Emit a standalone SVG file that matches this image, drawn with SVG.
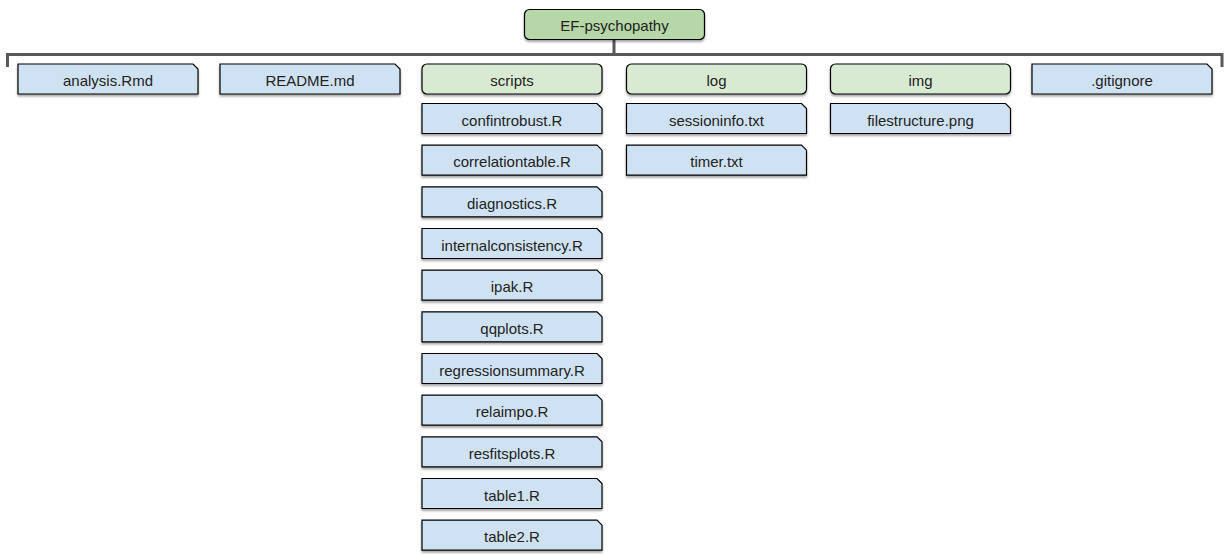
<svg xmlns="http://www.w3.org/2000/svg" width="1230" height="554" viewBox="0 0 1230 554">
<defs>
<filter id="sh" x="-5%" y="-20%" width="110%" height="160%">
<feDropShadow dx="0" dy="2" stdDeviation="1.2" flood-color="#000" flood-opacity="0.35"/>
</filter>
</defs>
<style>
.file path{fill:#cfe2f3;stroke:#000;stroke-width:1.2;filter:url(#sh)}
.dir rect{fill:#d9ead3;stroke:#000;stroke-width:1.2;filter:url(#sh)}
.root rect{fill:#b6d7a8;stroke:#000;stroke-width:1.2;filter:url(#sh)}
text{font-family:"Liberation Sans",Arial,sans-serif;font-size:15px;fill:#222;text-anchor:middle;dominant-baseline:central}
.conn{fill:none;stroke:#595959;stroke-width:3}
</style>
<rect width="1230" height="554" fill="#fff"/>
<g id="connectors">
<path class="conn" d="M614,39 V54.5 M7.5,67 V54.5 H1222 V67"/>
</g>
<g id="root" class="root"><rect x="524.5" y="9.5" width="180" height="30" rx="5"/><text x="614.5" y="25.5">EF-psychopathy</text></g>
<g id="n-analysis" class="file"><path d="M18,64 H193 L198,69 V94 H18 Z"/><text x="108" y="80.5">analysis.Rmd</text></g>
<g id="n-readme" class="file"><path d="M220,64 H395 L400,69 V94 H220 Z"/><text x="310" y="80.5">README.md</text></g>
<g id="n-scripts" class="dir"><rect x="422" y="64" width="180" height="30" rx="5"/><text x="512" y="80.5">scripts</text></g>
<g id="n-log" class="dir"><rect x="626.5" y="64" width="180" height="30" rx="5"/><text x="716.5" y="80.5">log</text></g>
<g id="n-img" class="dir"><rect x="830.5" y="64" width="180" height="30" rx="5"/><text x="920.5" y="80.5">img</text></g>
<g id="n-gitignore" class="file"><path d="M1032,64 H1207 L1212,69 V94 H1032 Z"/><text x="1122" y="80.5">.gitignore</text></g>
<g id="n-sessioninfo" class="file"><path d="M626.5,103.5 H801.5 L806.5,108.5 V133.5 H626.5 Z"/><text x="716.5" y="120">sessioninfo.txt</text></g>
<g id="n-timer" class="file"><path d="M626.5,145.2 H801.5 L806.5,150.2 V175.2 H626.5 Z"/><text x="716.5" y="161.7">timer.txt</text></g>
<g id="n-filestructure" class="file"><path d="M830.5,103.5 H1005.5 L1010.5,108.5 V133.5 H830.5 Z"/><text x="920.5" y="120">filestructure.png</text></g>
<g id="n-confintrobust" class="file"><path d="M422,103.5 H597 L602,108.5 V133.5 H422 Z"/><text x="512" y="120">confintrobust.R</text></g>
<g id="n-correlationtable" class="file"><path d="M422,145.2 H597 L602,150.2 V175.2 H422 Z"/><text x="512" y="161.7">correlationtable.R</text></g>
<g id="n-diagnostics" class="file"><path d="M422,186.8 H597 L602,191.8 V216.8 H422 Z"/><text x="512" y="203.3">diagnostics.R</text></g>
<g id="n-internalconsistency" class="file"><path d="M422,228.5 H597 L602,233.5 V258.5 H422 Z"/><text x="512" y="245">internalconsistency.R</text></g>
<g id="n-ipak" class="file"><path d="M422,270.2 H597 L602,275.2 V300.2 H422 Z"/><text x="512" y="286.7">ipak.R</text></g>
<g id="n-qqplots" class="file"><path d="M422,311.8 H597 L602,316.8 V341.8 H422 Z"/><text x="512" y="328.3">qqplots.R</text></g>
<g id="n-regressionsummary" class="file"><path d="M422,353.5 H597 L602,358.5 V383.5 H422 Z"/><text x="512" y="370">regressionsummary.R</text></g>
<g id="n-relaimpo" class="file"><path d="M422,395.2 H597 L602,400.2 V425.2 H422 Z"/><text x="512" y="411.7">relaimpo.R</text></g>
<g id="n-resfitsplots" class="file"><path d="M422,436.8 H597 L602,441.8 V466.8 H422 Z"/><text x="512" y="453.3">resfitsplots.R</text></g>
<g id="n-table1" class="file"><path d="M422,478.5 H597 L602,483.5 V508.5 H422 Z"/><text x="512" y="495">table1.R</text></g>
<g id="n-table2" class="file"><path d="M422,520.2 H597 L602,525.2 V550.2 H422 Z"/><text x="512" y="536.7">table2.R</text></g>
</svg>
